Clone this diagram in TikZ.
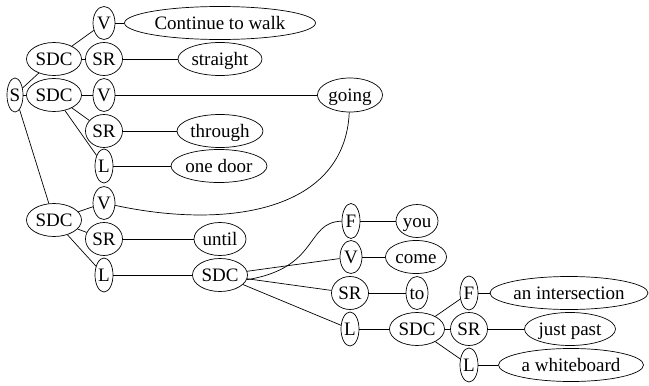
\documentclass[tikz,border=0pt]{standalone}
\usepackage{fontspec}
\newfontfamily\tmsfont{LiberationSerif-Regular.ttf}
\usetikzlibrary{shapes.geometric}
\begin{document}
\begin{tikzpicture}[x=1pt,y=-1pt,
  el/.style={draw,ellipse,inner sep=0pt,line width=0.7pt,font=\tmsfont\fontsize{19}{22}\selectfont,
    text height=14pt,text depth=1pt,minimum height=33pt},
  edge/.style={line width=0.7pt}]
\useasboundingbox (0,0) rectangle (649,386);
% level nodes
\node[el,minimum width=16pt,minimum height=34pt] (S) at (15,95) {S};
\node[el,minimum width=55pt] (SDCa) at (54,59) {SDC};
\node[el,minimum width=55pt] (SDCb) at (54,95) {SDC};
\node[el,minimum width=55pt] (SDCc) at (54,220) {SDC};
\node[el,minimum width=22pt] (Va) at (104,23) {V};
\node[el,minimum width=37pt] (SRa) at (104,59) {SR};
\node[el,minimum width=22pt] (Vb) at (104,95) {V};
\node[el,minimum width=37pt] (SRb) at (104,131) {SR};
\node[el,minimum width=18pt,minimum height=34pt] (La) at (104,166) {L};
\node[el,minimum width=22pt] (Vc) at (104,203) {V};
\node[el,minimum width=37pt] (SRc) at (104,239) {SR};
\node[el,minimum width=18pt,minimum height=34pt] (Lb) at (104,275) {L};
\node[el,minimum width=191pt] (cont) at (220,23) {Continue to walk};
\node[el,minimum width=84pt] (straight) at (220,59) {straight};
\node[el,minimum width=65pt,minimum height=34pt] (going) at (350,95) {going};
\node[el,minimum width=86pt] (through) at (220,131) {through};
\node[el,minimum width=96pt] (onedoor) at (219,166) {one door};
\node[el,minimum width=52pt] (until) at (220,239) {until};
\node[el,minimum width=55pt] (SDCd) at (220,275) {SDC};
\node[el,minimum width=18pt,minimum height=35pt] (Fa) at (351,221) {F};
\node[el,minimum width=22pt] (Vd) at (351,257) {V};
\node[el,minimum width=37pt] (SRd) at (350,293) {SR};
\node[el,minimum width=18pt,minimum height=34pt] (Lc) at (350,329) {L};
\node[el,minimum width=42pt] (you) at (417,221) {you};
\node[el,minimum width=61pt] (come) at (416,257) {come};
\node[el,minimum width=22pt] (to) at (417,293) {to};
\node[el,minimum width=55pt] (SDCe) at (417,329) {SDC};
\node[el,minimum width=18pt,minimum height=34pt] (Fb) at (469,293) {F};
\node[el,minimum width=37pt] (SRe) at (469,329) {SR};
\node[el,minimum width=18pt,minimum height=34pt] (Ld) at (469,365) {L};
\node[el,minimum width=158pt] (inter) at (569,293) {an intersection};
\node[el,minimum width=91pt] (justpast) at (570,329) {just past};
\node[el,minimum width=145pt] (wb) at (571,365) {a whiteboard};
% edges
\draw[edge] (S) -- (SDCa);
\draw[edge] (S) -- (SDCb);
\draw[edge] (S) -- (SDCc);
\draw[edge] (SDCa) -- (Va);
\draw[edge] (SDCa) -- (SRa);
\draw[edge] (Va) -- (cont);
\draw[edge] (SRa) -- (straight);
\draw[edge] (SDCb) -- (Vb);
\draw[edge] (SDCb) -- (SRb);
\draw[edge] (SDCb) -- (La);
\draw[edge] (Vb) -- (going);
\draw[edge] (SRb) -- (through);
\draw[edge] (La) -- (onedoor);
\draw[edge] (SDCc) -- (Vc);
\draw[edge] (SDCc) -- (SRc);
\draw[edge] (SDCc) -- (Lb);
\draw[edge] (Vc) .. controls (230,230) and (345,210) .. (going);
\draw[edge] (SRc) -- (until);
\draw[edge] (Lb) -- (SDCd);
\draw[edge] (SDCd.-10) .. controls (320,268) and (305,222) .. (Fa);
\draw[edge] (SDCd) -- (Vd);
\draw[edge] (SDCd) -- (SRd);
\draw[edge] (SDCd) -- (Lc);
\draw[edge] (Fa) -- (you);
\draw[edge] (Vd) -- (come);
\draw[edge] (SRd) -- (to);
\draw[edge] (Lc) -- (SDCe);
\draw[edge] (SDCe) -- (Fb);
\draw[edge] (SDCe) -- (SRe);
\draw[edge] (SDCe) -- (Ld);
\draw[edge] (Fb) -- (inter);
\draw[edge] (SRe) -- (justpast);
\draw[edge] (Ld) -- (wb);
\end{tikzpicture}
\end{document}
